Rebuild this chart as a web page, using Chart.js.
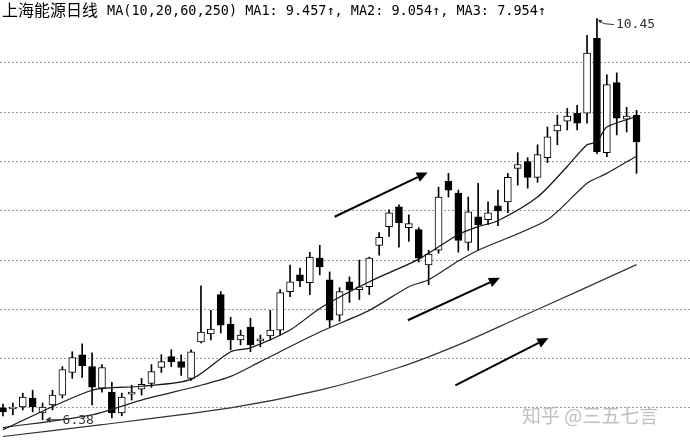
<!DOCTYPE html>
<html>
<head>
<meta charset="utf-8">
<script src="https://cdn.jsdelivr.net/npm/chart.js@4"></script>
<style>
  html, body { margin: 0; padding: 0; background: #fff; }
  #wrap { width: 690px; height: 445px; }
</style>
</head>
<body>
<div id="wrap"><canvas id="kline" width="690" height="445"></canvas></div>
<script>
// daily candles
const opens  = [6.50, 6.49, 6.51, 6.60, 6.45, 6.53, 6.63, 6.86, 7.04, 6.92,
                6.70, 6.66, 6.45, 6.64, 6.69, 6.75, 6.91, 7.02, 6.97, 6.80,
                7.17, 7.25, 7.65, 7.35, 7.19, 7.32, 7.18, 7.23, 7.29, 7.68,
                7.85, 7.77, 8.02, 7.80, 7.44, 7.78, 7.70, 7.73, 8.15, 8.34,
                8.54, 8.33, 8.31, 7.95, 8.10, 8.80, 8.68, 8.18, 8.44, 8.41,
                8.55, 8.59, 8.93, 9.00, 8.84, 9.04, 9.31, 9.41, 9.49, 9.49,
                10.25, 9.09, 9.80, 9.43, 9.47];
const highs  = [6.54, 6.55, 6.65, 6.68, 6.55, 6.68, 6.92, 7.07, 7.15, 7.06,
                6.94, 6.76, 6.65, 6.73, 6.80, 6.94, 7.04, 7.09, 7.04, 7.09,
                7.74, 7.49, 7.68, 7.42, 7.29, 7.41, 7.24, 7.49, 7.70, 7.95,
                7.92, 8.08, 8.15, 7.88, 7.72, 7.83, 8.00, 8.03, 8.28, 8.51,
                8.56, 8.46, 8.33, 8.10, 8.74, 8.88, 8.71, 8.64, 8.78, 8.59,
                8.71, 8.88, 9.09, 9.04, 9.17, 9.35, 9.47, 9.54, 9.57, 10.28,
                10.45, 9.88, 9.90, 9.55, 9.52];
const lows   = [6.42, 6.43, 6.48, 6.46, 6.38, 6.48, 6.60, 6.80, 6.81, 6.53,
                6.66, 6.40, 6.42, 6.58, 6.63, 6.71, 6.86, 6.92, 6.83, 6.78,
                7.16, 7.19, 7.26, 7.09, 7.14, 7.07, 7.12, 7.19, 7.24, 7.63,
                7.73, 7.65, 7.85, 7.32, 7.38, 7.57, 7.60, 7.65, 8.05, 8.24,
                8.13, 8.19, 7.98, 7.75, 8.07, 8.64, 8.08, 8.10, 8.10, 8.36,
                8.35, 8.48, 8.76, 8.73, 8.79, 8.99, 9.17, 9.32, 9.32, 9.39,
                9.08, 9.05, 9.27, 9.30, 8.88];
const closes = [6.46, 6.51, 6.61, 6.51, 6.51, 6.63, 6.89, 7.01, 6.93, 6.71,
                6.91, 6.45, 6.61, 6.66, 6.74, 6.87, 6.97, 6.97, 6.91, 7.07,
                7.27, 7.30, 7.34, 7.19, 7.24, 7.14, 7.20, 7.29, 7.67, 7.78,
                7.79, 8.03, 7.93, 7.39, 7.68, 7.70, 7.73, 8.02, 8.23, 8.48,
                8.38, 8.37, 8.02, 8.06, 8.64, 8.71, 8.20, 8.49, 8.36, 8.48,
                8.50, 8.84, 8.97, 8.84, 9.07, 9.25, 9.37, 9.46, 9.39, 10.10,
                9.10, 9.78, 9.44, 9.46, 9.20];

// moving averages, read at a few days along each curve
const ma1Days = [0, 9, 14, 19, 23, 25, 29, 32, 37, 42, 46, 48, 50, 54, 57, 59, 60, 61, 64];
const ma1Vals = [6.28, 6.68, 6.72, 6.79, 7.07, 7.11, 7.29, 7.51, 7.78, 8.01, 8.26, 8.34, 8.40, 8.64, 8.95, 9.17, 9.20, 9.35, 9.457];
const ma2Days = [0, 9, 14, 20, 23, 26, 32, 37, 41, 43, 46, 48, 55, 59, 61, 64];
const ma2Vals = [6.30, 6.43, 6.58, 6.73, 6.82, 6.97, 7.27, 7.49, 7.73, 7.80, 7.99, 8.10, 8.41, 8.78, 8.88, 9.054];
const ma3Days = [0, 10, 23, 32, 40, 46, 52, 58, 64];
const ma3Vals = [6.21, 6.33, 6.50, 6.68, 6.91, 7.14, 7.41, 7.68, 7.954];

// dotted price levels
const yTicks = [6.5, 7.0, 7.5, 8.0, 8.5, 9.0, 9.5, 10.0];

// hand drawn trend arrows: [day, price] start / end
const trendFrom = [[33.5, 8.44], [40.9, 7.39], [45.7, 6.73]];
const trendTo   = [[42.9, 8.89], [50.2, 7.82], [55.1, 7.21]];

const titleCn = '上海能源日线';
const titleMa = 'MA(10,20,60,250) MA1: 9.457↑, MA2: 9.054↑, MA3: 7.954↑';
const watermark = '知乎 @三五七言';

const days = opens.map((v, i) => i);

const wickData = days.map(i => ({ x: i, y: [lows[i], highs[i]] }));
const bodyData = days.map(i => ({ x: i, y: [Math.min(opens[i], closes[i]), Math.max(opens[i], closes[i])] }));
const bodyFill = days.map(i => closes[i] >= opens[i] ? '#fff' : '#000');

function maLine(dayArr, valArr, color) {
    return {
        type: 'line',
        data: dayArr.map((d, k) => ({ x: d, y: valArr[k] })),
        borderColor: color,
        borderWidth: 1.2,
        pointRadius: 0,
        tension: 0.25,
        order: 0
    };
}

function drawArrow(ctx, x0, y0, x1, y1, head, half) {
    const ang = Math.atan2(y1 - y0, x1 - x0);
    const bx = x1 - head * Math.cos(ang);
    const by = y1 - head * Math.sin(ang);
    ctx.beginPath();
    ctx.moveTo(x0, y0);
    ctx.lineTo(bx, by);
    ctx.stroke();
    ctx.beginPath();
    ctx.moveTo(x1, y1);
    ctx.lineTo(bx + half * Math.sin(ang), by - half * Math.cos(ang));
    ctx.lineTo(bx - half * Math.sin(ang), by + half * Math.cos(ang));
    ctx.closePath();
    ctx.fill();
}

// title, high/low marks, trend arrows and watermark
const notes = {
    id: 'notes',
    afterDatasetsDraw(chart) {
        const ctx = chart.ctx;
        const x = chart.scales.x;
        const y = chart.scales.y;
        ctx.save();

        ctx.fillStyle = '#000';
        ctx.strokeStyle = '#000';
        ctx.lineWidth = 2;
        trendFrom.forEach((p, k) => {
            drawArrow(ctx, x.getPixelForValue(p[0]), y.getPixelForValue(p[1]),
                x.getPixelForValue(trendTo[k][0]), y.getPixelForValue(trendTo[k][1]), 11, 5);
        });

        // highest high
        const hiVal = Math.max(...highs);
        const hiIdx = highs.indexOf(hiVal);
        const hx = x.getPixelForValue(hiIdx), hy = y.getPixelForValue(hiVal);
        ctx.lineWidth = 1;
        ctx.strokeStyle = '#333';
        ctx.fillStyle = '#333';
        drawArrow(ctx, hx + 7, hy + 5, hx + 1, hy + 1, 4, 2);
        ctx.beginPath();
        ctx.moveTo(hx + 7, hy + 5);
        ctx.lineTo(hx + 17, hy + 6);
        ctx.stroke();
        ctx.font = '13px "DejaVu Sans Mono"';
        ctx.textBaseline = 'middle';
        ctx.fillText(hiVal.toFixed(2), hx + 19, hy + 6);

        // lowest low
        const loVal = Math.min(...lows);
        const loIdx = lows.indexOf(loVal);
        const lx = x.getPixelForValue(loIdx), ly = y.getPixelForValue(loVal);
        drawArrow(ctx, lx + 18, ly, lx + 3, ly, 5, 3);
        ctx.fillText(loVal.toFixed(2), lx + 20, ly + 1);

        // title row
        ctx.fillStyle = '#000';
        ctx.textBaseline = 'alphabetic';
        ctx.font = '16px "Noto Sans CJK SC"';
        ctx.fillText(titleCn, 2, 16);
        ctx.font = '13.5px "DejaVu Sans Mono"';
        ctx.fillText(titleMa, 107, 15, 442);

        // watermark
        ctx.fillStyle = 'rgba(165,165,165,0.7)';
        ctx.font = '19px "Noto Sans CJK SC"';
        ctx.fillText(watermark, 522, 423);

        ctx.restore();
    }
};

new Chart(document.getElementById('kline'), {
    type: 'bar',
    data: {
        datasets: [
            maLine(ma1Days, ma1Vals, '#111'),
            maLine(ma2Days, ma2Vals, '#222'),
            maLine(ma3Days, ma3Vals, '#333'),
            {
                data: bodyData,
                backgroundColor: bodyFill,
                borderColor: '#000',
                borderWidth: 1,
                borderSkipped: false,
                barThickness: 7,
                grouped: false,
                order: 1
            },
            {
                data: wickData,
                backgroundColor: '#000',
                borderWidth: 0,
                barThickness: 1,
                grouped: false,
                order: 2
            }
        ]
    },
    options: {
        responsive: false,
        animation: false,
        devicePixelRatio: 1,
        layout: { padding: 0 },
        plugins: {
            legend: { display: false },
            tooltip: { enabled: false }
        },
        scales: {
            x: {
                type: 'linear',
                min: -0.3,
                max: 69.4,
                offset: false,
                display: false
            },
            y: {
                type: 'linear',
                min: 6.124,
                max: 10.639,
                afterBuildTicks: s => { s.ticks = yTicks.map(v => ({ value: v })); },
                afterFit: s => { s.width = 0; },
                ticks: { display: false },
                grid: { color: '#999', lineWidth: 1, drawTicks: false },
                border: { display: false, dash: [2, 2] }
            }
        }
    },
    plugins: [notes]
});
</script>
</body>
</html>
